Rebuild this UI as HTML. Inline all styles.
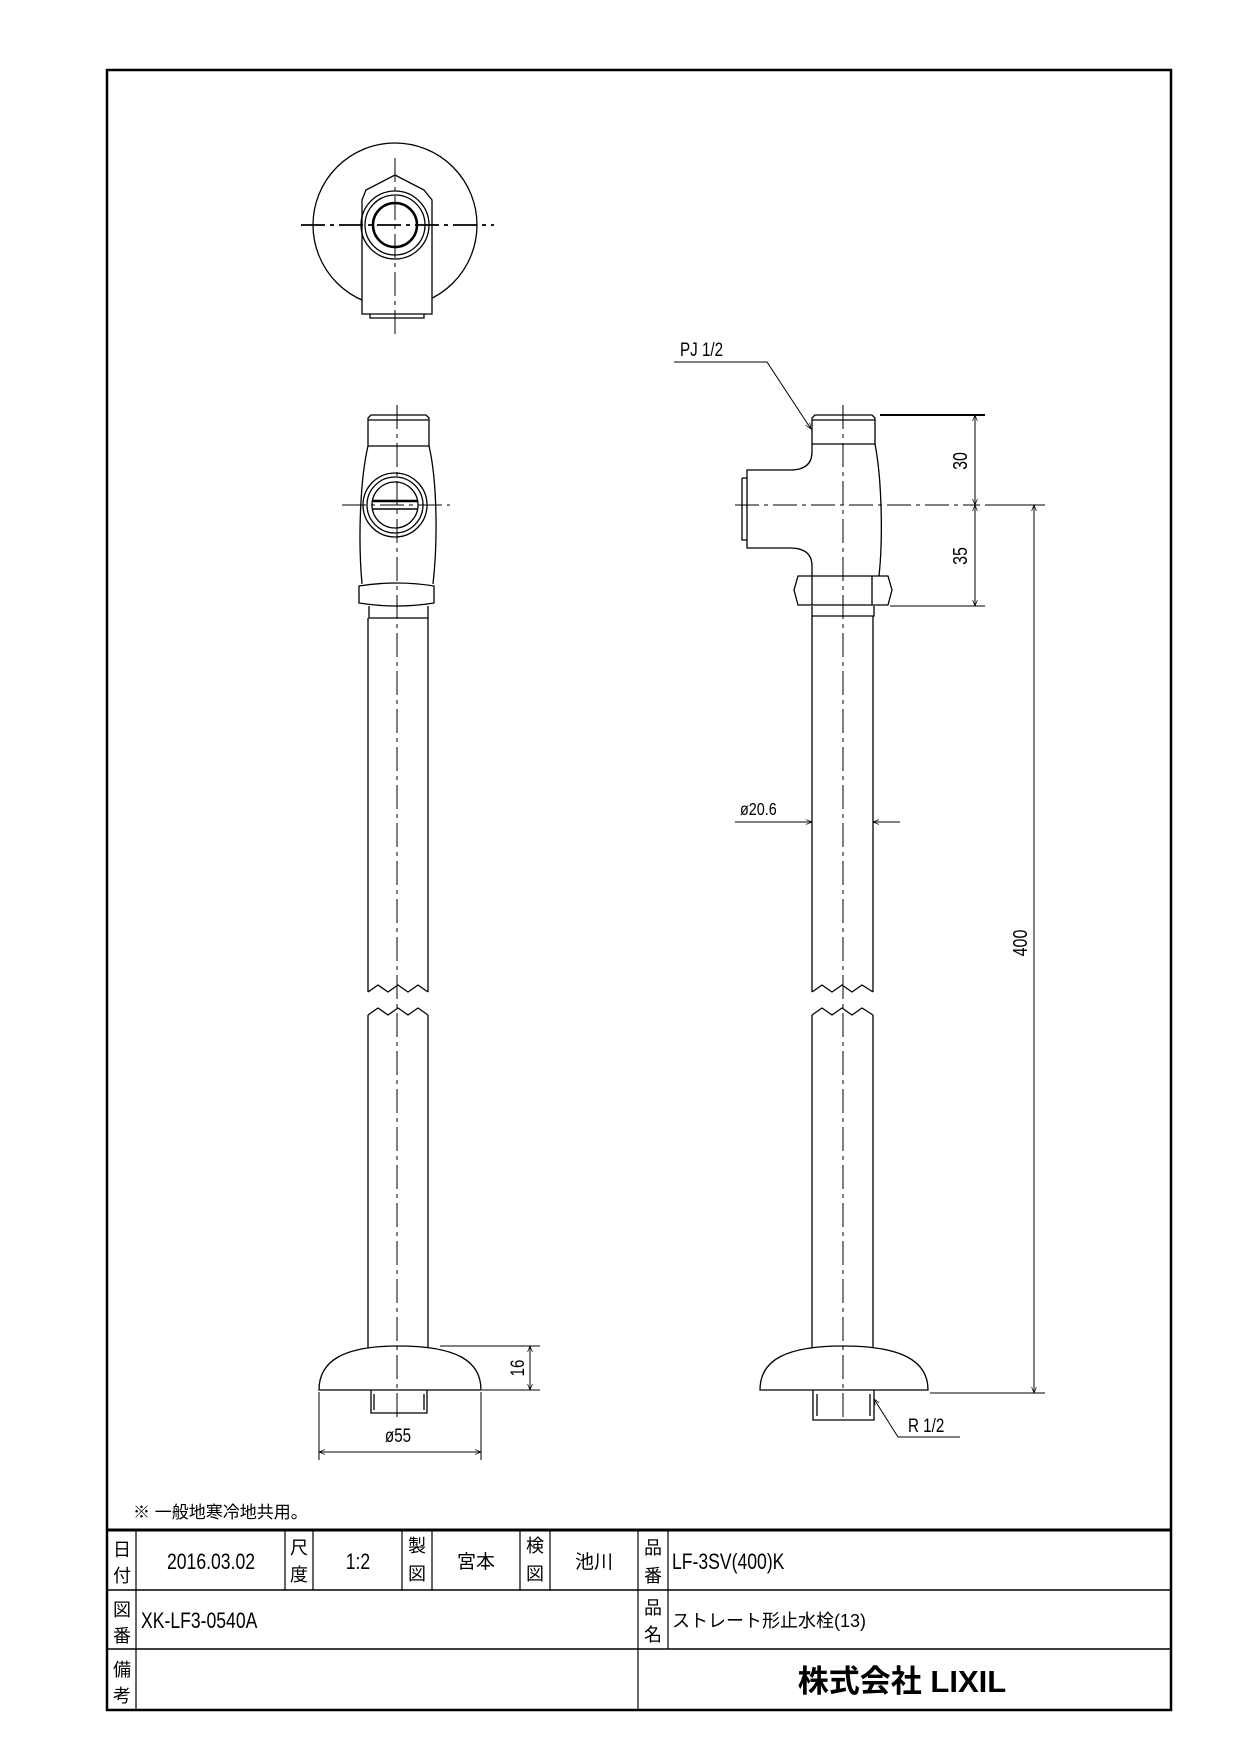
<!DOCTYPE html>
<html><head><meta charset="utf-8"><style>
html,body{margin:0;padding:0;background:#fff}
svg{display:block}
text{font-family:"Liberation Sans","Noto Sans CJK JP",sans-serif;fill:#000}
</style></head><body>
<svg width="1240" height="1754" viewBox="0 0 1240 1754" xmlns="http://www.w3.org/2000/svg">
<defs>
<marker id="a" viewBox="0 0 10 10" refX="10" refY="5" markerWidth="12" markerHeight="6" orient="auto-start-reverse" markerUnits="userSpaceOnUse"><path d="M0,1 L10,5 L0,9" fill="none" stroke="#000" stroke-width="1.2"/></marker>
</defs>
<rect x="107" y="70" width="1064" height="1640" fill="none" stroke="#000" stroke-width="2.5"/>

<g fill="none" stroke="#000" stroke-width="1.3">
<circle cx="395" cy="225" r="82"/>
<path d="M362,314 L362,200 L366,190 L395,175 L424,190 L432,200 L432,314 Z" fill="#fff"/>
<path d="M370,314 L370,318 L424,318 L424,314"/>
<circle cx="395" cy="225" r="34"/><circle cx="395" cy="225" r="30"/><circle cx="395" cy="225" r="22" stroke-width="2.5"/>
</g>
<g stroke="#000" stroke-width="1" stroke-dasharray="24,5,4,5" fill="none">
<line x1="301" y1="225" x2="494" y2="225" stroke-width="1.8"/>
<line x1="395" y1="158" x2="395" y2="338"/>
</g>

<g fill="none" stroke="#000" stroke-width="1.3">
<path d="M368,446 L368,418 L371,415 L426,415 L429,418 L429,446 Z"/>
<line x1="368" y1="420" x2="429" y2="420"/>
<path d="M368,446 C360,480 358,540 362,584 M429,446 C437,480 438,540 433,584"/>
<path d="M359,586 Q397,580 434,586 L434,603 Q397,609 359,603 Z"/>
<path d="M369,606 L369,618 L428,618 L428,606"/>
<circle cx="395" cy="505" r="32"/><circle cx="395" cy="505" r="28"/><circle cx="395" cy="505" r="23"/>
<line x1="372" y1="501" x2="418" y2="501" stroke-width="2.5"/><line x1="372" y1="509" x2="418" y2="509" stroke-width="1.5"/>
<line x1="368" y1="618" x2="368" y2="992"/><line x1="428" y1="618" x2="428" y2="992"/>
<path d="M368,992 L378,985 L388,992 L398,985 L408,992 L418,985 L428,992"/>
<path d="M368,1015 L378,1008 L388,1015 L398,1008 L408,1015 L418,1008 L428,1015"/>
<line x1="368" y1="1015" x2="368" y2="1348"/><line x1="428" y1="1015" x2="428" y2="1348"/>
<path d="M319,1390 C319,1360 345,1346 398,1346 C455,1346 481,1360 481,1390 Z"/>
<path d="M371,1390 L371,1413 L427,1413 L427,1390"/>
<line x1="374" y1="1394" x2="374" y2="1410"/><line x1="424" y1="1394" x2="424" y2="1410"/>
</g>
<g stroke="#000" stroke-width="1" stroke-dasharray="24,5,4,5" fill="none">
<line x1="397" y1="405" x2="397" y2="1420"/>
<line x1="342" y1="505" x2="450" y2="505"/>
</g>
<g stroke="#000" stroke-width="1" fill="none">
<line x1="440" y1="1346" x2="540" y2="1346"/><line x1="482" y1="1390" x2="540" y2="1390"/>
<line x1="530" y1="1346" x2="530" y2="1390" marker-start="url(#a)" marker-end="url(#a)"/>
<line x1="319" y1="1392" x2="319" y2="1460"/><line x1="481" y1="1392" x2="481" y2="1460"/>
<line x1="319" y1="1452" x2="481" y2="1452" marker-start="url(#a)" marker-end="url(#a)"/>
</g>
<text font-size="19" transform="translate(524,1368) rotate(-90) scale(0.8,1)" text-anchor="middle">16</text>
<text font-size="19" transform="translate(398,1442) scale(0.8,1)" text-anchor="middle">ø55</text>

<g fill="none" stroke="#000" stroke-width="1.3">
<path d="M812,444 L812,418 L815,415 L872,415 L875,418 L875,444 Z"/>
<line x1="812" y1="420" x2="875" y2="420"/>
<path d="M812,444 L812,452 Q812,470 790,470 L747,470 L747,548 L790,548 Q812,548 812,566 L812,576"/>
<path d="M875,444 C882,480 883,540 879,576"/>
<path d="M742,478 L747,478 M742,478 L742,540 L747,540"/>
<path d="M798,576 L888,576 L892,590 L888,605 L798,605 L794,590 Z"/>
<line x1="812" y1="576" x2="812" y2="605"/><line x1="872" y1="576" x2="872" y2="605"/>
<path d="M812,606 L812,616 L874,616 L874,606"/>
<line x1="812" y1="616" x2="812" y2="992"/><line x1="873" y1="616" x2="873" y2="992"/>
<path d="M812,992 L822,985 L832,992 L842,985 L852,992 L862,985 L873,992"/>
<path d="M812,1015 L822,1008 L832,1015 L842,1008 L852,1015 L862,1008 L873,1015"/>
<line x1="812" y1="1015" x2="812" y2="1348"/><line x1="873" y1="1015" x2="873" y2="1348"/>
<path d="M760,1390 C760,1360 786,1346 843,1346 C900,1346 928,1360 928,1390 Z"/>
<path d="M813,1390 L813,1420 L874,1420 L874,1390"/>
<line x1="817" y1="1394" x2="817" y2="1416"/><line x1="870" y1="1394" x2="870" y2="1416"/>
</g>
<g stroke="#000" stroke-width="1" stroke-dasharray="24,5,4,5" fill="none">
<line x1="843" y1="405" x2="843" y2="1420"/>
<line x1="735" y1="505" x2="980" y2="505"/>
</g>
<g stroke="#000" stroke-width="1" fill="none">
<line x1="880" y1="415" x2="985" y2="415" stroke-width="2"/>
<line x1="890" y1="606" x2="985" y2="606"/>
<line x1="985" y1="505" x2="1045" y2="505"/>
<line x1="930" y1="1393" x2="1045" y2="1393"/>
<line x1="975" y1="415" x2="975" y2="505" marker-start="url(#a)" marker-end="url(#a)"/>
<line x1="975" y1="505" x2="975" y2="606" marker-start="url(#a)" marker-end="url(#a)"/>
<line x1="1034" y1="505" x2="1034" y2="1393" marker-start="url(#a)" marker-end="url(#a)"/>
<line x1="735" y1="822" x2="812" y2="822" marker-end="url(#a)"/>
<line x1="900" y1="822" x2="873" y2="822" marker-end="url(#a)"/>
<polyline points="674,362 767,362 811,429" marker-end="url(#a)" fill="none"/>
<polyline points="960,1437 898,1437 874,1399" marker-end="url(#a)" fill="none"/>
</g>
<text font-size="20" transform="translate(967,461) rotate(-90) scale(0.8,1)" text-anchor="middle">30</text>
<text font-size="20" transform="translate(967,556) rotate(-90) scale(0.8,1)" text-anchor="middle">35</text>
<text font-size="20" transform="translate(1027,943) rotate(-90) scale(0.8,1)" text-anchor="middle">400</text>
<text font-size="18" transform="translate(740,815) scale(0.8,1)">ø20.6</text>
<text font-size="19" transform="translate(680,356) scale(0.8,1)">PJ 1/2</text>
<text font-size="19" transform="translate(908,1432) scale(0.8,1)">R 1/2</text>

<text x="133" y="1518" font-size="17">※ 一般地寒冷地共用。</text>

<g stroke="#000" fill="none">
<line x1="107" y1="1530" x2="1171" y2="1530" stroke-width="3"/>
<line x1="107" y1="1590" x2="1171" y2="1590" stroke-width="1.5"/>
<line x1="107" y1="1649" x2="1171" y2="1649" stroke-width="1.5"/>
<g stroke-width="1.2">
<line x1="136" y1="1530" x2="136" y2="1710"/>
<line x1="285" y1="1530" x2="285" y2="1590"/><line x1="313" y1="1530" x2="313" y2="1590"/>
<line x1="402" y1="1530" x2="402" y2="1590"/><line x1="432" y1="1530" x2="432" y2="1590"/>
<line x1="520" y1="1530" x2="520" y2="1590"/><line x1="550" y1="1530" x2="550" y2="1590"/>
<line x1="638" y1="1530" x2="638" y2="1710"/><line x1="668" y1="1530" x2="668" y2="1649"/>
</g>
</g>
<g font-size="18" text-anchor="middle">
<text x="122" y="1556">日</text><text x="122" y="1582">付</text>
<text x="299" y="1554">尺</text><text x="299" y="1581">度</text>
<text x="417" y="1552">製</text><text x="417" y="1580">図</text>
<text x="535" y="1552">検</text><text x="535" y="1580">図</text>
<text x="653" y="1554">品</text><text x="653" y="1582">番</text>
<text x="122" y="1616">図</text><text x="122" y="1642">番</text>
<text x="653" y="1614">品</text><text x="653" y="1641">名</text>
<text x="122" y="1676">備</text><text x="122" y="1702">考</text>
</g>
<g font-size="22">
<text transform="translate(211,1569) scale(0.8,1)" text-anchor="middle">2016.03.02</text>
<text transform="translate(358,1569) scale(0.8,1)" text-anchor="middle">1:2</text>
<text x="476" y="1568" font-size="19" text-anchor="middle">宮本</text>
<text x="594" y="1568" font-size="19" text-anchor="middle">池川</text>
<text transform="translate(672,1569) scale(0.8,1)">LF-3SV(400)K</text>
<text transform="translate(141,1628) scale(0.8,1)">XK-LF3-0540A</text>
<text x="672" y="1627" font-size="18">ストレート形止水栓(13)</text>
</g>
<text x="902" y="1692" font-size="31" font-weight="bold" text-anchor="middle">株式会社 LIXIL</text>
</svg>
</body></html>
